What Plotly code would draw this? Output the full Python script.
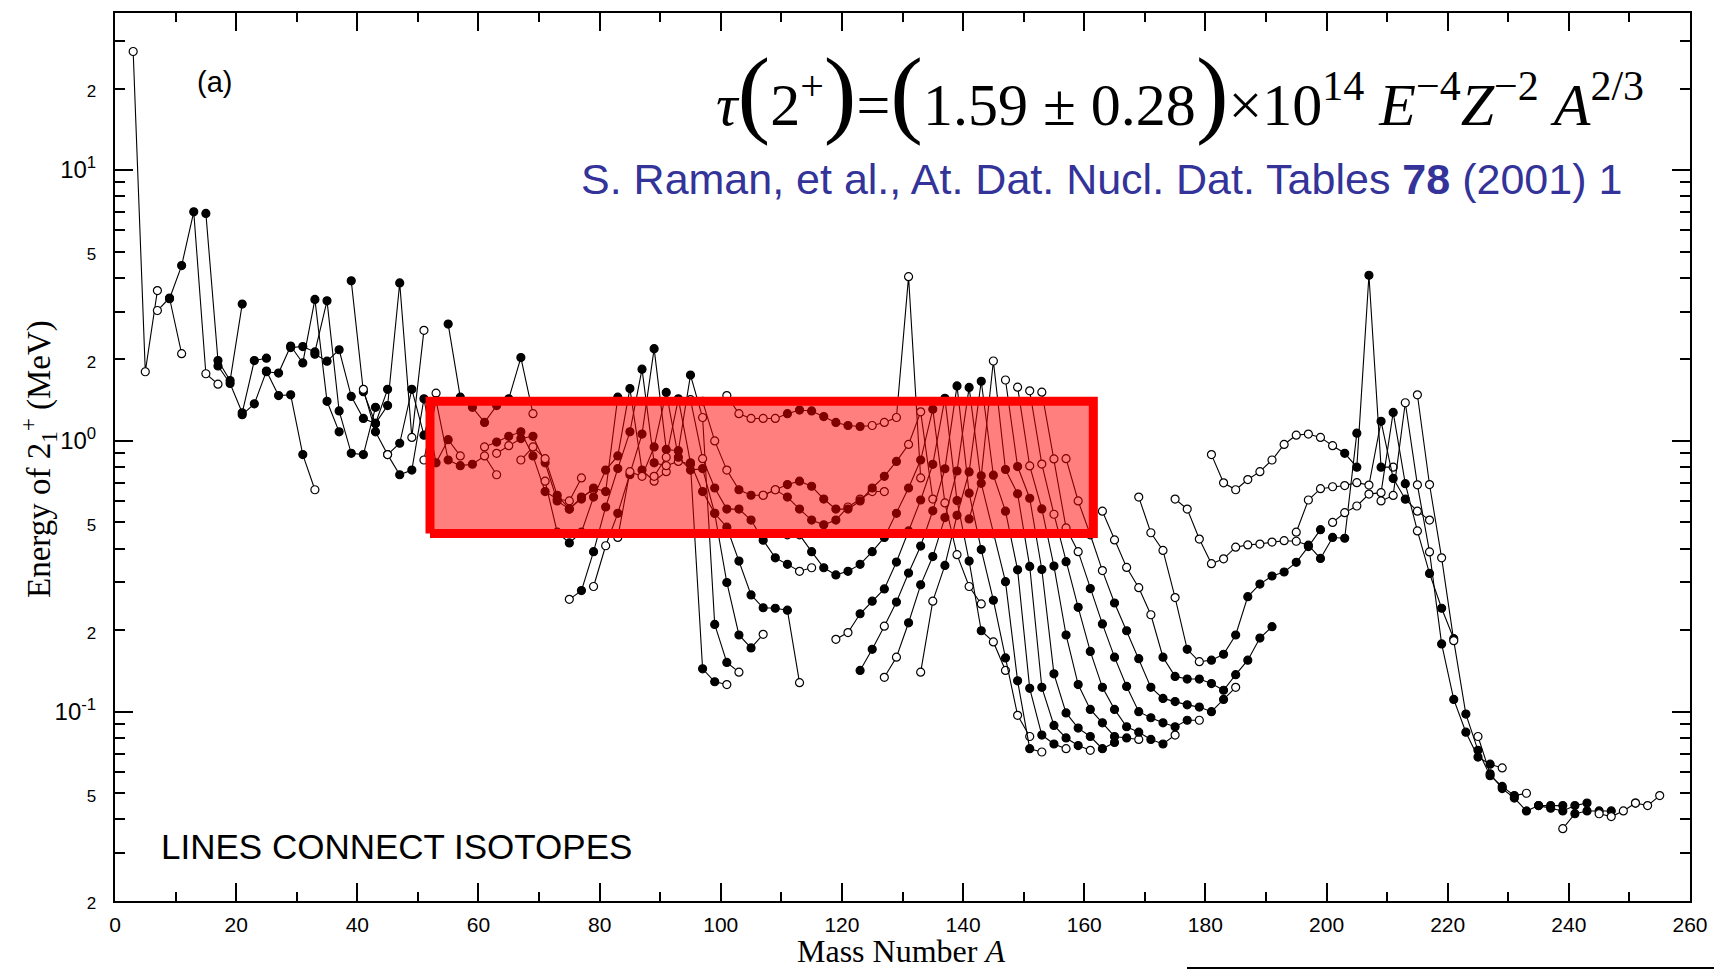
import math
import plotly.graph_objects as go

# ---------------- figure geometry ----------------
W, H = 1723, 972
ML, MR, MT, MB = 115, 33, 13, 71

# ---------------- data: even-even isotope chains ----------------
# A = mass number, E = energy of first 2+ state (MeV), m = marker (f filled / o open)
He = dict(A=[4, 6, 8], E=[27.4, 1.80, 3.59], m="ooo")
Be = dict(A=[8, 10, 12], E=[3.03, 3.37, 2.10], m="ofo")
C_ = dict(A=[10, 12, 14, 16, 18], E=[3.35, 4.44, 7.01, 1.77, 1.62], m="fffoo")
O_ = dict(A=[16, 18, 20, 22], E=[6.92, 1.98, 1.67, 3.20], m="ffff")
Ne = dict(A=[18, 20, 22, 24, 26], E=[1.89, 1.63, 1.27, 1.98, 2.02], m="fffff")
Mg = dict(A=[22, 24, 26, 28, 30, 32, 34], E=[1.25, 1.37, 1.81, 1.47, 1.48, 0.89, 0.66], m="ffffffo")
Si = dict(A=[26, 28, 30, 32, 34, 36, 38], E=[1.80, 1.78, 2.24, 1.94, 3.33, 1.40, 1.08], m="fffffff")
S_ = dict(A=[30, 32, 34, 36, 38, 40, 42, 44], E=[2.21, 2.23, 2.13, 3.29, 1.29, 0.90, 0.89, 1.33], m="ffffffff")
Ar = dict(A=[34, 36, 38, 40, 42, 44, 46], E=[2.09, 1.97, 2.17, 1.46, 1.21, 1.16, 1.55], m="fffffff")
Ca = dict(A=[40, 42, 44, 46, 48, 50, 52], E=[3.90, 1.52, 1.16, 1.35, 3.83, 1.03, 2.56], m="fffffoo")
Ti = dict(A=[42, 44, 46, 48, 50, 52, 54], E=[1.55, 1.08, 0.89, 0.98, 1.55, 1.05, 1.50], m="offfffo")
Cr = dict(A=[46, 48, 50, 52, 54, 56, 58], E=[0.89, 0.75, 0.78, 1.43, 0.83, 1.01, 0.88], m="offfffo")
Fe = dict(A=[52, 54, 56, 58, 60, 62, 64], E=[0.85, 1.41, 0.85, 0.81, 0.82, 0.88, 0.75], m="offffoo")
Ni = dict(A=[56, 58, 60, 62, 64, 66, 68, 70], E=[2.70, 1.45, 1.33, 1.17, 1.35, 1.43, 2.03, 1.26], m="fffffffo")
Zn = dict(A=[62, 64, 66, 68, 70, 72, 74, 76, 78], E=[0.95, 0.99, 1.04, 1.08, 0.88, 0.65, 0.61, 0.60, 0.73], m="offfffooo")
Ge = dict(A=[64, 66, 68, 70, 72, 74, 76, 78, 80], E=[0.90, 0.96, 1.02, 1.04, 0.83, 0.60, 0.56, 0.62, 0.66], m="ooffffffo")
Se = dict(A=[68, 70, 72, 74, 76, 78, 80, 82, 84], E=[0.85, 0.95, 0.86, 0.63, 0.56, 0.61, 0.67, 0.65, 1.45], m="oooffffff")
Kr = dict(A=[72, 74, 76, 78, 80, 82, 84, 86, 88, 90, 92],
          E=[0.71, 0.46, 0.42, 0.46, 0.62, 0.78, 0.88, 1.56, 0.78, 0.71, 0.77], m="oofffffffoo")
Sr = dict(A=[76, 78, 80, 82, 84, 86, 88, 90, 92, 94, 96, 98, 100, 102],
          E=[0.26, 0.28, 0.39, 0.57, 0.79, 1.08, 1.84, 0.83, 0.81, 0.84, 0.82, 0.144, 0.129, 0.126], m="offfffffoooffo")
Zr = dict(A=[80, 82, 84, 86, 88, 90, 92, 94, 96, 98, 100, 102, 104],
          E=[0.29, 0.41, 0.54, 0.75, 1.06, 2.19, 0.93, 0.92, 1.75, 1.22, 0.21, 0.152, 0.14], m="oofffffffoffo")
Mo = dict(A=[84, 86, 88, 90, 92, 94, 96, 98, 100, 102, 104, 106, 108],
          E=[0.44, 0.77, 0.74, 0.95, 1.51, 0.87, 0.78, 0.79, 0.54, 0.30, 0.192, 0.172, 0.193], m="ooofffffffffo")
Ru = dict(A=[90, 92, 94, 96, 98, 100, 102, 104, 106, 108, 110, 112, 114],
          E=[0.74, 0.87, 1.43, 0.83, 0.65, 0.54, 0.48, 0.36, 0.27, 0.242, 0.241, 0.237, 0.128], m="ooffffffffffo")
Pd = dict(A=[96, 98, 100, 102, 104, 106, 108, 110, 112, 114, 116],
          E=[1.42, 0.86, 0.67, 0.56, 0.56, 0.51, 0.43, 0.37, 0.35, 0.33, 0.34], m="oofffffffoo")
Cd = dict(A=[98, 100, 102, 104, 106, 108, 110, 112, 114, 116, 118, 120, 122, 124, 126, 128],
          E=[1.40, 1.00, 0.78, 0.66, 0.63, 0.63, 0.66, 0.62, 0.56, 0.51, 0.49, 0.51, 0.57, 0.61, 0.65, 0.65],
          m="ooofffffffffoooo")
Sn = dict(A=[102, 104, 106, 108, 110, 112, 114, 116, 118, 120, 122, 124, 126, 128, 130, 132, 134],
          E=[1.47, 1.26, 1.21, 1.21, 1.21, 1.26, 1.30, 1.29, 1.23, 1.17, 1.14, 1.13, 1.14, 1.17, 1.22, 4.04, 0.73],
          m="ooooofffffffooooo")
Te = dict(A=[108, 110, 112, 114, 116, 118, 120, 122, 124, 126, 128, 130, 132, 134, 136],
          E=[0.63, 0.66, 0.69, 0.71, 0.68, 0.61, 0.56, 0.56, 0.60, 0.67, 0.74, 0.84, 0.97, 1.28, 0.61],
          m="ooffffffffffooo")
Xe = dict(A=[112, 114, 116, 118, 120, 122, 124, 126, 128, 130, 132, 134, 136, 138, 140, 142, 144],
          E=[0.45, 0.45, 0.39, 0.34, 0.32, 0.33, 0.35, 0.39, 0.44, 0.54, 0.67, 0.85, 1.31, 0.59, 0.38, 0.29, 0.25],
          m="oofffffffffffoooo")
Ba = dict(A=[120, 122, 124, 126, 128, 130, 132, 134, 136, 138, 140, 142, 144, 146, 148],
          E=[0.185, 0.196, 0.230, 0.256, 0.284, 0.357, 0.465, 0.605, 0.819, 1.436, 0.602, 0.360, 0.199, 0.181, 0.142],
          m="oofffffffffffoo")
Ce = dict(A=[124, 126, 128, 130, 132, 134, 136, 138, 140, 142, 144, 146, 148, 150, 152],
          E=[0.142, 0.170, 0.207, 0.254, 0.325, 0.409, 0.552, 0.789, 1.596, 0.641, 0.397, 0.258, 0.158, 0.097, 0.081],
          m="ffoffffffffffoo")
Nd = dict(A=[128, 130, 132, 134, 136, 138, 140, 142, 144, 146, 148, 150, 152, 154],
          E=[0.134, 0.159, 0.213, 0.294, 0.374, 0.521, 0.774, 1.576, 0.697, 0.454, 0.302, 0.130, 0.073, 0.071],
          m="oofffffffffffo")
Sm = dict(A=[134, 136, 138, 140, 142, 144, 146, 148, 150, 152, 154, 156, 158],
          E=[0.140, 0.256, 0.347, 0.531, 0.768, 1.660, 0.747, 0.550, 0.334, 0.122, 0.082, 0.076, 0.073],
          m="ooffffffffffo")
Gd = dict(A=[142, 144, 146, 148, 150, 152, 154, 156, 158, 160, 162],
          E=[0.515, 0.743, 1.972, 0.784, 0.638, 0.344, 0.123, 0.089, 0.080, 0.075, 0.072], m="ffofffffffo")
Dy = dict(A=[148, 150, 152, 154, 156, 158, 160, 162, 164, 166],
          E=[1.678, 0.804, 0.614, 0.335, 0.138, 0.099, 0.087, 0.081, 0.073, 0.077], m="offfffffff")
Er = dict(A=[150, 152, 154, 156, 158, 160, 162, 164, 166, 168, 170],
          E=[1.579, 0.808, 0.561, 0.345, 0.192, 0.126, 0.102, 0.091, 0.081, 0.080, 0.079], m="ooffffffffo")
Yb = dict(A=[152, 154, 156, 158, 160, 162, 164, 166, 168, 170, 172, 174, 176],
          E=[1.531, 0.821, 0.536, 0.358, 0.243, 0.167, 0.123, 0.102, 0.088, 0.084, 0.079, 0.076, 0.082],
          m="ooofffffffffo")
Hf = dict(A=[154, 156, 158, 160, 162, 164, 166, 168, 170, 172, 174, 176, 178, 180],
          E=[1.513, 0.858, 0.477, 0.390, 0.285, 0.211, 0.159, 0.124, 0.100, 0.095, 0.091, 0.088, 0.093, 0.093],
          m="oooofffffffffo")
W_ = dict(A=[158, 160, 162, 164, 166, 168, 170, 172, 174, 176, 178, 180, 182, 184, 186],
          E=[0.86, 0.60, 0.450, 0.332, 0.252, 0.199, 0.157, 0.123, 0.112, 0.109, 0.106, 0.104, 0.100, 0.111, 0.123],
          m="ooooffffffffffo")
Os = dict(A=[164, 166, 168, 170, 172, 174, 176, 178, 180, 182, 184, 186, 188, 190, 192],
          E=[0.55, 0.431, 0.341, 0.287, 0.228, 0.159, 0.135, 0.132, 0.132, 0.127, 0.120, 0.137, 0.155, 0.187, 0.206],
          m="oooooffffffffff")
Pt = dict(A=[170, 172, 174, 176, 178, 180, 182, 184, 186, 188, 190, 192, 194, 196, 198, 200],
          E=[0.62, 0.458, 0.394, 0.264, 0.170, 0.153, 0.155, 0.163, 0.192, 0.266, 0.296, 0.317, 0.328, 0.356,
             0.407, 0.470],
          m="oooofoffffffffff")
Hg = dict(A=[176, 178, 180, 182, 184, 186, 188, 190, 192, 194, 196, 198, 200, 202, 204, 206],
          E=[0.61, 0.56, 0.434, 0.352, 0.367, 0.405, 0.413, 0.416, 0.423, 0.428, 0.426, 0.412, 0.368, 0.440,
             0.437, 1.068],
          m="oooooooooooffff f".replace(" ", ""))
Pb = dict(A=[182, 184, 186, 188, 190, 192, 194, 196, 198, 200, 202, 204, 206, 208, 210, 212],
          E=[0.89, 0.70, 0.66, 0.72, 0.77, 0.85, 0.97, 1.05, 1.06, 1.03, 0.96, 0.90, 0.80, 4.09, 0.80, 0.80],
          m="oooooooooooffffo")
Po = dict(A=[196, 198, 200, 202, 204, 206, 208, 210, 212, 214, 216, 218],
          E=[0.46, 0.605, 0.666, 0.677, 0.684, 0.701, 0.687, 1.181, 0.727, 0.609, 0.550, 0.51], m="ooooooofffoo")
Rn = dict(A=[202, 204, 206, 208, 210, 212, 214, 216, 218, 220, 222],
          E=[0.50, 0.543, 0.575, 0.636, 0.644, 1.274, 0.695, 0.465, 0.324, 0.241, 0.186], m="oooooffofff")
Ra = dict(A=[210, 212, 214, 216, 218, 220, 222, 224, 226, 228, 230],
          E=[0.60, 0.629, 1.383, 0.688, 0.389, 0.178, 0.111, 0.084, 0.068, 0.064, 0.062], m="ooooofffffo")
Th = dict(A=[216, 218, 220, 222, 224, 226, 228, 230, 232, 234],
          E=[1.48, 0.69, 0.37, 0.183, 0.098, 0.072, 0.058, 0.053, 0.049, 0.050], m="oooofffffo")
U_ = dict(A=[226, 228, 230, 232, 234, 236, 238, 240],
          E=[0.081, 0.059, 0.052, 0.048, 0.043, 0.045, 0.045, 0.045], m="offfffff")
Pu = dict(A=[236, 238, 240, 242, 244], E=[0.045, 0.044, 0.043, 0.045, 0.046], m="fffff")
Cm = dict(A=[240, 242, 244, 246, 248], E=[0.037, 0.042, 0.043, 0.043, 0.043], m="offff")
Cf = dict(A=[246, 248, 250, 252], E=[0.042, 0.041, 0.043, 0.046], m="oooo")
Fm = dict(A=[252, 254, 256], E=[0.046, 0.045, 0.049], m="ooo")

CHAINS = [He, Be, C_, O_, Ne, Mg, Si, S_, Ar, Ca, Ti, Cr, Fe, Ni, Zn, Ge, Se, Kr, Sr, Zr, Mo, Ru, Pd,
          Cd, Sn, Te, Xe, Ba, Ce, Nd, Sm, Gd, Dy, Er, Yb, Hf, W_, Os, Pt, Hg, Pb, Po, Rn, Ra, Th, U_,
          Pu, Cm, Cf, Fm]

# the points in the original figure sit about one mass unit left of the axis scale
A_SHIFT = -1.0

# highlighted region (axis units)
BOX_A = (52.0, 161.5)
BOX_E = (0.455, 1.40)

X_RANGE = (0, 260)
Y_RANGE_LOG = (math.log10(0.02), 1.58)
X_TICKS = list(range(0, 261, 20))
X_MINOR = list(range(10, 260, 20))
Y_TICKS = [0.02, 0.05, 0.1, 0.2, 0.5, 1, 2, 5, 10, 20]
SMALL = "<span style='font-size:17px'>%s</span>"
Y_TICKTEXT = [SMALL % "2", SMALL % "5", "10<sup>-1</sup>", SMALL % "2", SMALL % "5", "10<sup>0</sup>",
              SMALL % "2", SMALL % "5", "10<sup>1</sup>", SMALL % "2"]
Y_MINOR = [m * 10 ** d for d in (-2, -1, 0, 1) for m in (3, 4, 6, 7, 8, 9)]
Y_DECADES = [0.1, 1, 10]

fig = go.Figure()

for ch in CHAINS:
    flags = (ch["m"] + "f" * len(ch["A"]))[:len(ch["A"])]
    fills = ["black" if f == "f" else "white" for f in flags]
    fig.add_trace(go.Scatter(
        x=[a + A_SHIFT for a in ch["A"]], y=ch["E"], mode="lines+markers",
        line=dict(color="black", width=1.1),
        marker=dict(symbol="circle", size=8, color=fills, line=dict(color="black", width=1.2)),
        showlegend=False, hoverinfo="skip"))

# highlighted rectangle
fig.add_trace(go.Scatter(
    x=[BOX_A[0], BOX_A[1], BOX_A[1], BOX_A[0], BOX_A[0]],
    y=[BOX_E[0], BOX_E[0], BOX_E[1], BOX_E[1], BOX_E[0]],
    mode="lines", fill="toself", fillcolor="rgba(255,0,0,0.5)",
    line=dict(color="rgb(255,0,0)", width=9), showlegend=False, hoverinfo="skip"))

# dummy trace for the decade-tick overlay axis
fig.add_trace(go.Scatter(x=[None], y=[None], yaxis="y2", showlegend=False, hoverinfo="skip"))

PW = W - ML - MR
PH = H - MT - MB


def px(x):
    return (x - ML) / PW


def py(y):
    return (H - MB - y) / PH


BIG = "<span style='font-size:98px'>%s</span>"
formula = ("<i>τ</i>" + BIG % "(" + "2<sup>+</sup>" + BIG % ")" + "=" + BIG % "(" + "1.59 ± 0.28" + BIG % ")"
           + "×10<sup>14</sup> <i>E</i><sup>−4</sup><i>Z</i><sup>−2</sup> <i>A</i><sup>2/3</sup>")

annotations = [
    dict(x=px(1646), y=py(92), xref="paper", yref="paper", xanchor="right", yanchor="middle",
         showarrow=False, text=formula,
         font=dict(family="Liberation Serif", size=60, color="black")),
    dict(x=px(1624), y=py(179), xref="paper", yref="paper", xanchor="right", yanchor="middle",
         showarrow=False,
         text="S. Raman, et al., At. Dat. Nucl. Dat. Tables <b>78</b> (2001) 1",
         font=dict(family="Liberation Sans", size=43, color="#333399")),
    dict(x=px(214), y=py(82), xref="paper", yref="paper", xanchor="center", yanchor="middle",
         showarrow=False, text="(a)", font=dict(family="Liberation Sans", size=29, color="black")),
    dict(x=px(159), y=py(846), xref="paper", yref="paper", xanchor="left", yanchor="middle",
         showarrow=False, text="LINES CONNECT ISOTOPES",
         font=dict(family="Liberation Sans", size=35, color="black")),
    dict(x=px(901), y=py(951), xref="paper", yref="paper", xanchor="center", yanchor="middle",
         showarrow=False, text="Mass Number <i>A</i>",
         font=dict(family="Liberation Serif", size=32, color="black")),
    dict(x=px(38), y=py(459), xref="paper", yref="paper", xanchor="center", yanchor="middle",
         showarrow=False, textangle=-90, text="Energy of 2<sub>1</sub><sup>+</sup> (MeV)",
         font=dict(family="Liberation Serif", size=33, color="black")),
]

fig.update_layout(
    width=W, height=H, margin=dict(l=ML, r=MR, t=MT, b=MB),
    paper_bgcolor="white", plot_bgcolor="white", showlegend=False,
    annotations=annotations,
    shapes=[dict(type="line", xref="paper", yref="paper", x0=px(1187), x1=px(1714), y0=py(968), y1=py(968),
                 line=dict(color="black", width=2))],
    xaxis=dict(range=list(X_RANGE), showgrid=False, zeroline=False, showline=True, linecolor="black",
               linewidth=2, mirror="ticks", ticks="inside", tickmode="array", tickvals=X_TICKS,
               ticklen=18, tickwidth=1.5, tickcolor="black", ticklabelstandoff=4,
               minor=dict(tickmode="array", tickvals=X_MINOR, ticks="inside", ticklen=9, tickwidth=1.5,
                          tickcolor="black", showgrid=False),
               tickfont=dict(family="Liberation Sans", size=21, color="black")),
    yaxis=dict(type="log", range=list(Y_RANGE_LOG), showgrid=False, zeroline=False, showline=True,
               linecolor="black", linewidth=2, mirror="ticks", ticks="inside", tickmode="array",
               tickvals=Y_TICKS, ticktext=Y_TICKTEXT, ticklen=10, tickwidth=1.5, tickcolor="black",
               ticklabelstandoff=12,
               minor=dict(tickmode="array", tickvals=Y_MINOR, ticks="inside", ticklen=10, tickwidth=1.5,
                          tickcolor="black", showgrid=False),
               tickfont=dict(family="Liberation Sans", size=24, color="black")),
    yaxis2=dict(type="log", range=list(Y_RANGE_LOG), overlaying="y", anchor="x", side="left",
                showgrid=False, zeroline=False, showline=False, showticklabels=False, mirror="ticks",
                ticks="inside", tickmode="array", tickvals=Y_DECADES, ticklen=18, tickwidth=2,
                tickcolor="black"),
)

fig.write_html("out.html")
